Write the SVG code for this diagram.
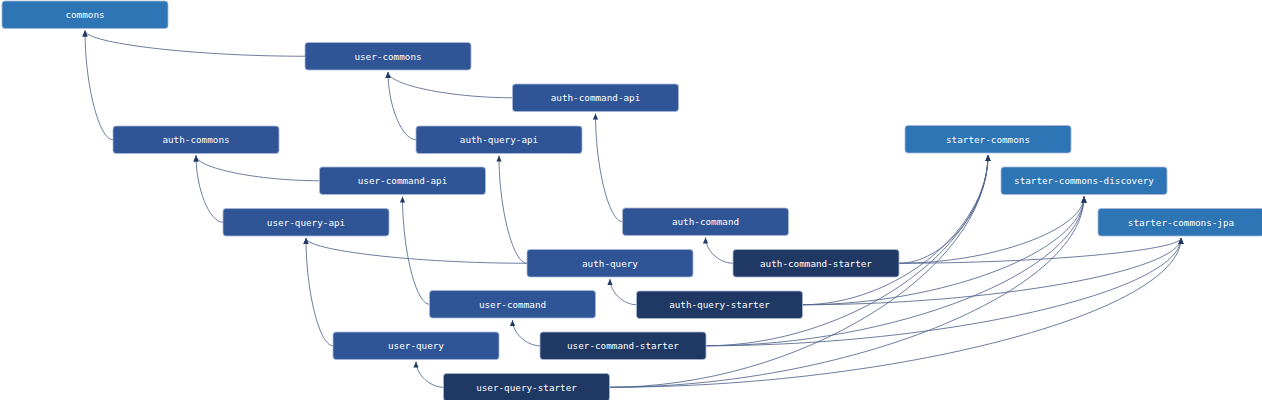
<svg xmlns="http://www.w3.org/2000/svg" width="1262" height="400" viewBox="0 0 1262 400">
<style>
.n rect{stroke:#a7b9db;stroke-width:0.8}
.l rect{fill:#2e75b6}
.m rect{fill:#2f5597}
.d rect{fill:#1f3864}
.n text{font-family:"DejaVu Sans Mono","Liberation Mono",monospace;font-size:9.3px;fill:#ffffff;text-anchor:middle}
#edges path{fill:none;stroke:#51658f;stroke-width:0.85;marker-end:url(#ah)}
</style>
<defs>
<marker id="ah" markerUnits="userSpaceOnUse" markerWidth="7" markerHeight="6" refX="6" refY="3" orient="auto">
<path d="M0,0.4 L6,3 L0,5.6 z" fill="#1f3864"/>
</marker>
</defs>
<rect width="1262" height="400" fill="#ffffff"/>
<g id="edges">
<path d="M305,56.25 C195,56.25 85,43.4 85,30.5"/>
<path d="M113,139.75 C99,139.75 85,85.1 85,30.5"/>
<path d="M512.5,97.75 C450.25,97.75 388,84.9 388,72"/>
<path d="M416,139.75 C402,139.75 388,105.9 388,72"/>
<path d="M319.5,180.75 C257.75,180.75 196,168.1 196,155.5"/>
<path d="M223,222.25 C209.5,222.25 196,188.9 196,155.5"/>
<path d="M622.5,221.75 C609,221.75 595.5,167.6 595.5,113.5"/>
<path d="M527,263.25 C513,263.25 499,209.4 499,155.5"/>
<path d="M527,263.25 C416.5,263.25 306,250.6 306,238"/>
<path d="M429.5,304.25 C416,304.25 402.5,250.4 402.5,196.5"/>
<path d="M333,345.75 C319.5,345.75 306,291.9 306,238"/>
<path d="M733,263.25 C719.25,263.25 705.5,250.4 705.5,237.5"/>
<path d="M636.5,304.75 C623.25,304.75 610,291.9 610,279"/>
<path d="M540,345.75 C526.25,345.75 512.5,332.9 512.5,320"/>
<path d="M443.5,387.25 C429.75,387.25 416,374.4 416,361.5"/>
<path d="M899,263.25 C943.5,263.25 988,209.1 988,155"/>
<path d="M899,263.25 C991.5,263.25 1084,229.9 1084,196.5"/>
<path d="M899,263.25 C1040,263.25 1181,250.6 1181,238"/>
<path d="M802.5,304.75 C895.25,304.75 988,229.9 988,155"/>
<path d="M802.5,304.75 C943.25,304.75 1084,250.6 1084,196.5"/>
<path d="M802.5,304.75 C991.75,304.75 1181,271.4 1181,238"/>
<path d="M706,345.75 C847,345.75 988,250.4 988,155"/>
<path d="M706,345.75 C895,345.75 1084,271.1 1084,196.5"/>
<path d="M706,345.75 C943.5,345.75 1181,291.9 1181,238"/>
<path d="M609.5,387.25 C798.75,387.25 988,271.1 988,155"/>
<path d="M609.5,387.25 C846.75,387.25 1084,291.9 1084,196.5"/>
<path d="M609.5,387.25 C895.25,387.25 1181,312.6 1181,238"/>
</g>
<g id="commons" class="n l"><rect x="2" y="1" width="166" height="27.5" rx="3"/><text x="85" y="18.1">commons</text></g>
<g id="user-commons" class="n m"><rect x="305" y="42.5" width="166" height="27.5" rx="3"/><text x="388" y="59.6">user-commons</text></g>
<g id="auth-command-api" class="n m"><rect x="512.5" y="84" width="166" height="27.5" rx="3"/><text x="595.5" y="101.1">auth-command-api</text></g>
<g id="auth-commons" class="n m"><rect x="113" y="126" width="166" height="27.5" rx="3"/><text x="196" y="143.1">auth-commons</text></g>
<g id="auth-query-api" class="n m"><rect x="416" y="126" width="166" height="27.5" rx="3"/><text x="499" y="143.1">auth-query-api</text></g>
<g id="starter-commons" class="n l"><rect x="905" y="125.5" width="166" height="27.5" rx="3"/><text x="988" y="142.6">starter-commons</text></g>
<g id="user-command-api" class="n m"><rect x="319.5" y="167" width="166" height="27.5" rx="3"/><text x="402.5" y="184.1">user-command-api</text></g>
<g id="starter-commons-discovery" class="n l"><rect x="1001" y="167" width="166" height="27.5" rx="3"/><text x="1084" y="184.1">starter-commons-discovery</text></g>
<g id="user-query-api" class="n m"><rect x="223" y="208.5" width="166" height="27.5" rx="3"/><text x="306" y="225.6">user-query-api</text></g>
<g id="auth-command" class="n m"><rect x="622.5" y="208" width="166" height="27.5" rx="3"/><text x="705.5" y="225.1">auth-command</text></g>
<g id="starter-commons-jpa" class="n l"><rect x="1098" y="208.5" width="166" height="27.5" rx="3"/><text x="1181" y="225.6">starter-commons-jpa</text></g>
<g id="auth-query" class="n m"><rect x="527" y="249.5" width="166" height="27.5" rx="3"/><text x="610" y="266.6">auth-query</text></g>
<g id="auth-command-starter" class="n d"><rect x="733" y="249.5" width="166" height="27.5" rx="3"/><text x="816" y="266.6">auth-command-starter</text></g>
<g id="user-command" class="n m"><rect x="429.5" y="290.5" width="166" height="27.5" rx="3"/><text x="512.5" y="307.6">user-command</text></g>
<g id="auth-query-starter" class="n d"><rect x="636.5" y="291" width="166" height="27.5" rx="3"/><text x="719.5" y="308.1">auth-query-starter</text></g>
<g id="user-query" class="n m"><rect x="333" y="332" width="166" height="27.5" rx="3"/><text x="416" y="349.1">user-query</text></g>
<g id="user-command-starter" class="n d"><rect x="540" y="332" width="166" height="27.5" rx="3"/><text x="623" y="349.1">user-command-starter</text></g>
<g id="user-query-starter" class="n d"><rect x="443.5" y="373.5" width="166" height="27.5" rx="3"/><text x="526.5" y="390.6">user-query-starter</text></g>
</svg>
